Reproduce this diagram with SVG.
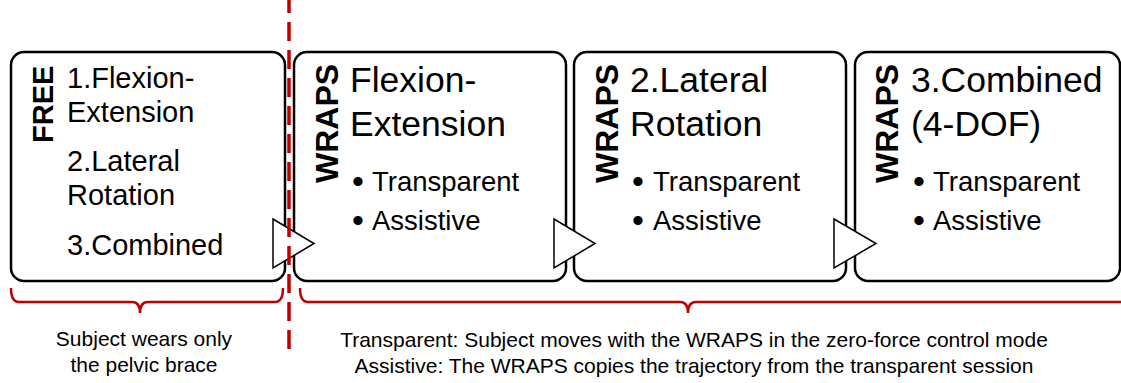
<svg xmlns="http://www.w3.org/2000/svg" width="1121" height="383" viewBox="0 0 1121 383">
<style>
.box{fill:#fff;stroke:#000;stroke-width:2.5}
.t{font-family:"Liberation Sans",Arial,sans-serif;fill:#000}
.m{font-size:29px}
.h{font-size:35.5px}
.b{font-size:27.5px}
.d{font-size:34px}
.v{font-weight:bold;font-size:32px}
.f{font-weight:bold;font-size:29px}
.c{font-size:21px;text-anchor:middle}
.tri{fill:#fff;stroke:#000;stroke-width:1.5}
.red{fill:none;stroke:#C00000;stroke-width:2.5}
</style>
<rect width="1121" height="383" fill="#fff"/>
<g id="free">
<rect class="box" x="11" y="52" width="274" height="229" rx="13"/>
<text class="t f" transform="translate(53,143) rotate(-90)">FREE</text>
<text class="t m" x="67" y="88">1.Flexion-</text>
<text class="t m" x="67" y="122">Extension</text>
<text class="t m" x="67" y="171">2.Lateral</text>
<text class="t m" x="67" y="205">Rotation</text>
<text class="t m" x="67" y="255">3.Combined</text>
</g>
<g id="wraps-fe">
<rect class="box" x="294" y="52" width="272" height="229" rx="13"/>
<text class="t v" transform="translate(338,183) rotate(-90)">WRAPS</text>
<text class="t h" x="350" y="92">Flexion-</text>
<text class="t h" x="350" y="136">Extension</text>
<text class="t d" x="352" y="193">•</text>
<text class="t b" x="372" y="191">Transparent</text>
<text class="t d" x="352" y="232">•</text>
<text class="t b" x="372" y="230">Assistive</text>
</g>
<g id="wraps-lr">
<rect class="box" x="574" y="52" width="272" height="229" rx="13"/>
<text class="t v" transform="translate(618,183) rotate(-90)">WRAPS</text>
<text class="t h" x="630" y="92">2.Lateral</text>
<text class="t h" x="630" y="136">Rotation</text>
<text class="t d" x="632" y="193">•</text>
<text class="t b" x="653" y="191">Transparent</text>
<text class="t d" x="632" y="232">•</text>
<text class="t b" x="653" y="230">Assistive</text>
</g>
<g id="wraps-comb">
<rect class="box" x="855" y="52" width="265" height="229" rx="13"/>
<text class="t v" transform="translate(898,183) rotate(-90)">WRAPS</text>
<text class="t h" x="911" y="92">3.Combined</text>
<text class="t h" x="911" y="136">(4-DOF)</text>
<text class="t d" x="913" y="193">•</text>
<text class="t b" x="933" y="191">Transparent</text>
<text class="t d" x="913" y="232">•</text>
<text class="t b" x="933" y="230">Assistive</text>
</g>
<g id="connectors">
<polygon class="tri" points="273,219 314,243.5 273,268"/>
<polygon class="tri" points="554,219 595,243.5 554,268"/>
<polygon class="tri" points="834,219 876,243.5 834,268"/>
</g>
<g id="annotations">
<path class="red" d="M11,288 Q11,302 19,302 L132,302 Q140,302 140,313 Q140,302 148,302 L275,302 Q283,302 283,288"/>
<path class="red" d="M300,288 Q300,302 308,302 L680,302 Q688,302 688,313 Q688,302 696,302 L1125,302"/>
<line x1="289" y1="-6" x2="289" y2="350" stroke="#C00000" stroke-width="3.5" stroke-dasharray="19 9"/>
<text class="t c" x="144" y="346">Subject wears only</text>
<text class="t c" x="144" y="372">the pelvic brace</text>
<text class="t c" x="694" y="347">Transparent: Subject moves with the WRAPS in the zero-force control mode</text>
<text class="t c" x="694" y="373">Assistive: The WRAPS copies the trajectory from the transparent session</text>
</g>
</svg>
